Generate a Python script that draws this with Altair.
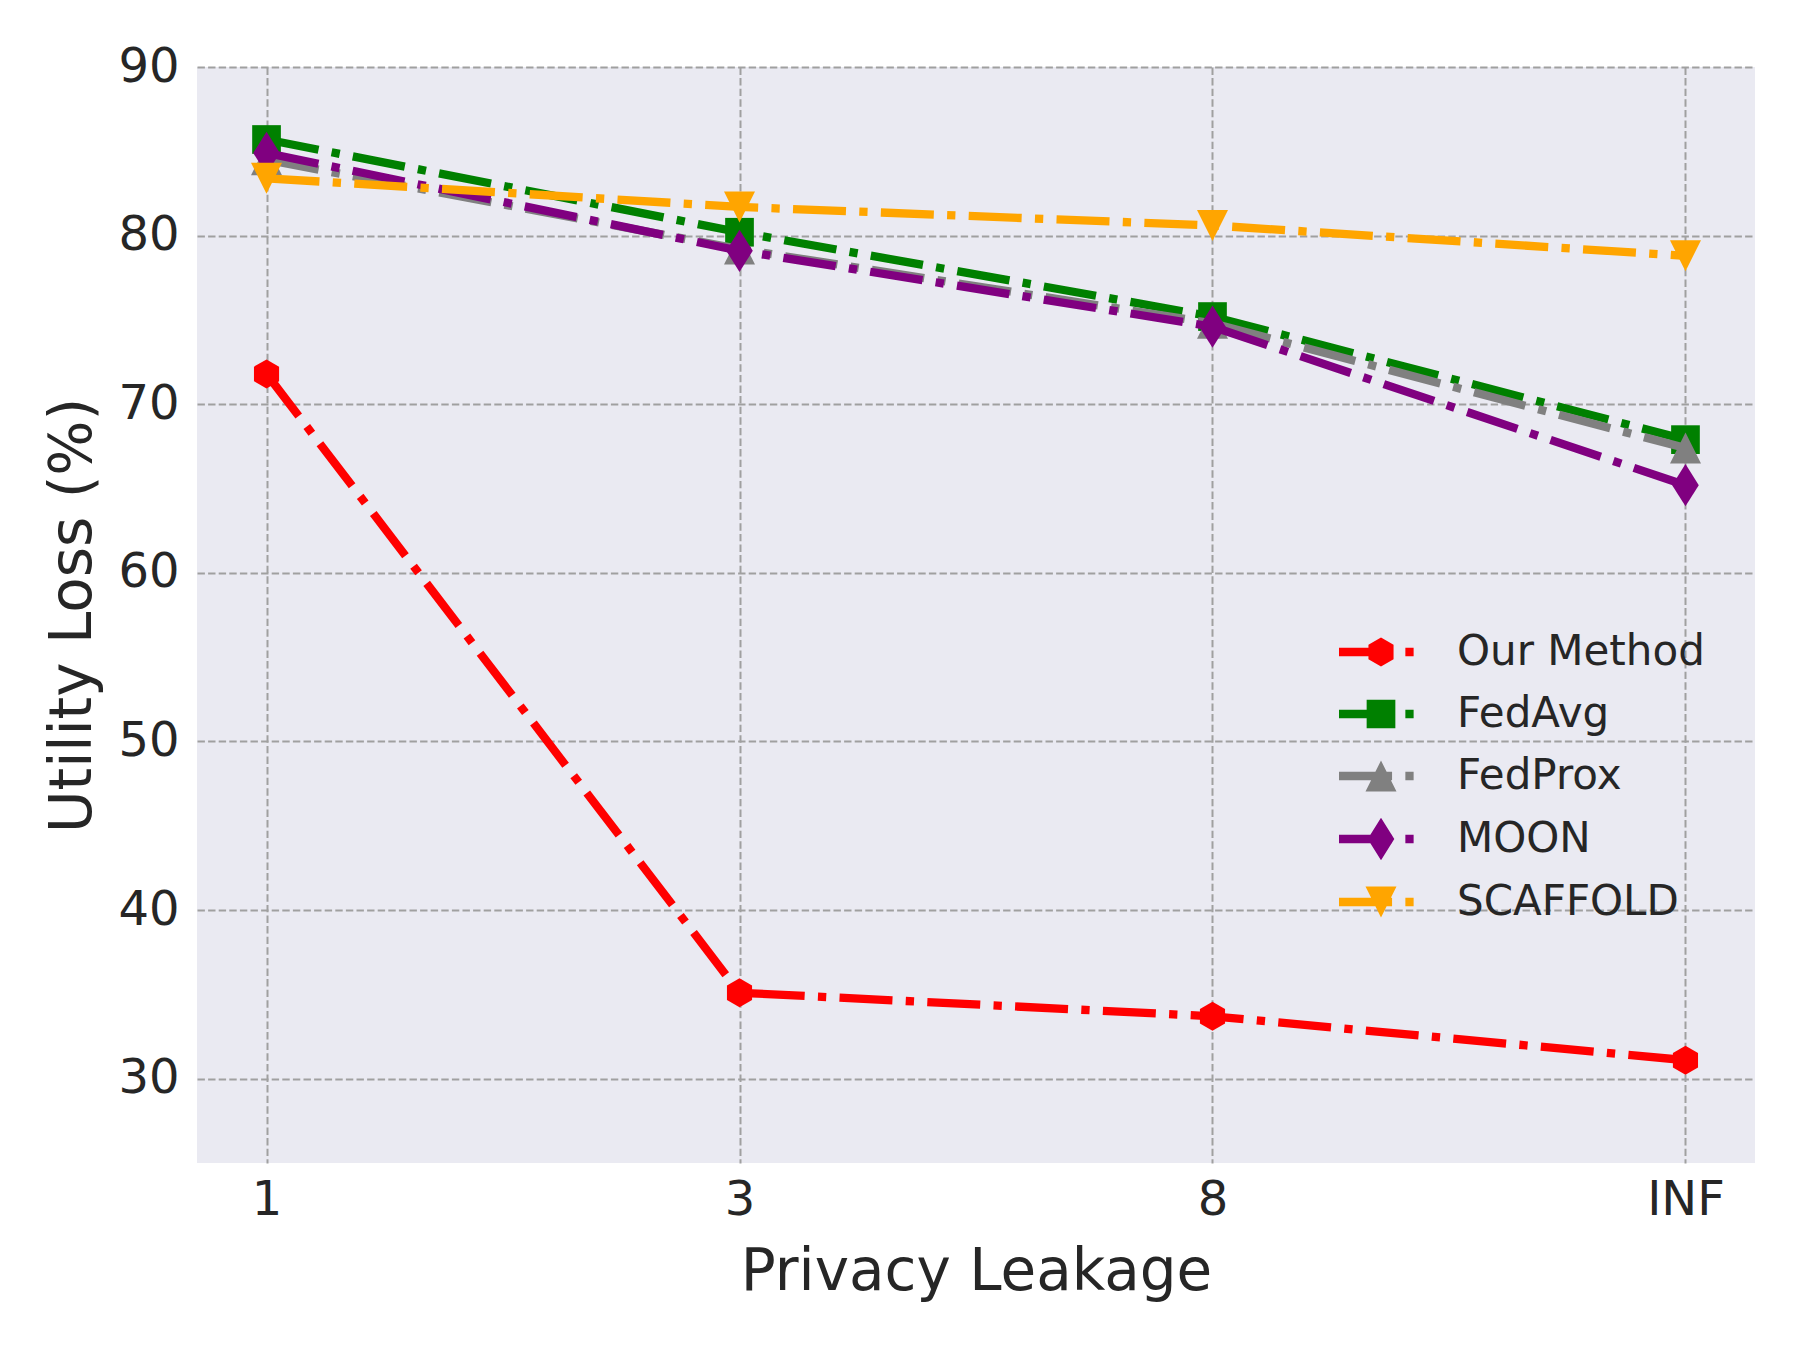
import altair as alt
import pandas as pd

# ---- data ----
leakage = ["1", "3", "8", "INF"]
series_names = ["Our Method", "FedAvg", "FedProx", "MOON", "SCAFFOLD"]
our_method = [71.8, 35.1, 33.7, 31.1]
fedavg = [85.7, 80.2, 75.2, 67.9]
fedprox = [84.5, 79.2, 74.8, 67.4]
moon = [84.9, 79.1, 74.6, 65.2]
scaffold = [83.4, 81.7, 80.6, 78.8]
colors = ["#FF0000", "#008000", "#808080", "#800080", "#FFA500"]

values_by_series = [our_method, fedavg, fedprox, moon, scaffold]
rows = []
for name, vals in zip(series_names, values_by_series):
    for lk, v in zip(leakage, vals):
        rows.append({"leakage": lk, "series": name, "value": v})
df = pd.DataFrame(rows)

# marker shapes (unit path, scaled by symbol size)
hexagon = "M0,-1.036L0.897,-0.518L0.897,0.518L0,1.036L-0.897,0.518L-0.897,-0.518Z"
square = "M-1.025,-1.025H1.025V1.025H-1.025Z"
tri_up = "M0,-1.107L1.107,1.107L-1.107,1.107Z"
diamond = "M0,-1.51L0.95,0L0,1.51L-0.95,0Z"
tri_down = "M-1.107,-1.107L1.107,-1.107L0,1.107Z"
markers = [hexagon, square, tri_up, diamond, tri_down]
# legend handle: dash-dot line segment with marker in the middle
handle_line = "M-3,-0.3H0.79V0.3H-3Z M1.74,-0.3H2.33V0.3H1.74Z "
legend_paths = [handle_line + m for m in markers]

FONT = "DejaVu Sans"
TXT = "#262626"
MSIZE = 784

x_enc = alt.X(
    "leakage:O",
    sort=leakage,
    scale=alt.Scale(type="point", padding=0.147),
    axis=alt.Axis(
        title="Privacy Leakage",
        labelAngle=0,
        labelFontSize=48,
        labelFont=FONT,
        labelColor=TXT,
        labelPadding=13,
        titleFontSize=58,
        titleFont=FONT,
        titleColor=TXT,
        titleFontWeight="normal",
        titleBaseline="alphabetic",
        titleY=126,
        domain=False,
        ticks=False,
        tickSize=0,
        grid=True,
        gridColor="#a0a0a0",
        gridDash=[7.4, 3.2],
        gridWidth=2,
    ),
)
y_enc = alt.Y(
    "value:Q",
    scale=alt.Scale(domain=[25, 90], nice=False, zero=False),
    axis=alt.Axis(
        title="Utility Loss (%)",
        values=[30, 40, 50, 60, 70, 80, 90],
        labelFontSize=48,
        labelFont=FONT,
        labelColor=TXT,
        labelPadding=18,
        titleFontSize=58,
        titleFont=FONT,
        titleColor=TXT,
        titleFontWeight="normal",
        titleBaseline="alphabetic",
        titleX=-107,
        domain=False,
        ticks=False,
        tickSize=0,
        grid=True,
        gridColor="#a0a0a0",
        gridDash=[7.4, 3.2],
        gridWidth=2,
    ),
)

color_main = alt.Color(
    "series:N",
    scale=alt.Scale(domain=series_names, range=colors),
    legend=None,
)
shape_main = alt.Shape(
    "series:N",
    scale=alt.Scale(domain=series_names, range=markers),
    legend=None,
)

layers = []
for name in series_names:
    line = (
        alt.Chart()
        .mark_line(
            strokeWidth=8.3,
            strokeDash=[53, 13.3, 8.3, 13.3],
            strokeCap="butt",
            strokeJoin="round",
        )
        .encode(x=x_enc, y=y_enc, color=color_main)
        .transform_filter(alt.datum.series == name)
    )
    pts = (
        alt.Chart()
        .mark_point(filled=True, size=MSIZE, opacity=1, strokeWidth=0)
        .encode(x=x_enc, y=y_enc, color=color_main, shape=shape_main)
        .transform_filter(alt.datum.series == name)
    )
    layers += [line, pts]

main = alt.layer(*layers)

leg = alt.Legend(
    orient="none",
    legendX=1163,
    legendY=564,
    symbolSize=MSIZE,
    symbolStrokeWidth=0,
    symbolOpacity=1,
    labelOffset=55,
    labelFontSize=42,
    labelFont=FONT,
    labelColor=TXT,
    labelLimit=0,
    rowPadding=20,
    padding=0,
)
legend_layer = (
    alt.Chart()
    .mark_point(filled=True, size=MSIZE, opacity=1, strokeWidth=0)
    .encode(
        x=x_enc,
        y=y_enc,
        color=alt.Color(
            "series:N",
            title=None,
            scale=alt.Scale(domain=series_names, range=colors),
            legend=leg,
        ),
        shape=alt.Shape(
            "series:N",
            title=None,
            scale=alt.Scale(domain=series_names, range=legend_paths),
            legend=leg,
        ),
    )
    .transform_filter("false")
)

chart = (
    alt.layer(main, legend_layer, data=df)
    .resolve_scale(color="independent", shape="independent")
    .properties(
        width=1558,
        height=1096,
        autosize=alt.AutoSizeParams(type="none"),
        padding={"left": 189, "top": 59, "right": 37, "bottom": 179},
        background="white",
    )
    .configure_view(fill="#EAEAF2", stroke=None)
)

chart.save("out.html", embed_options={"renderer": "svg", "actions": False})
